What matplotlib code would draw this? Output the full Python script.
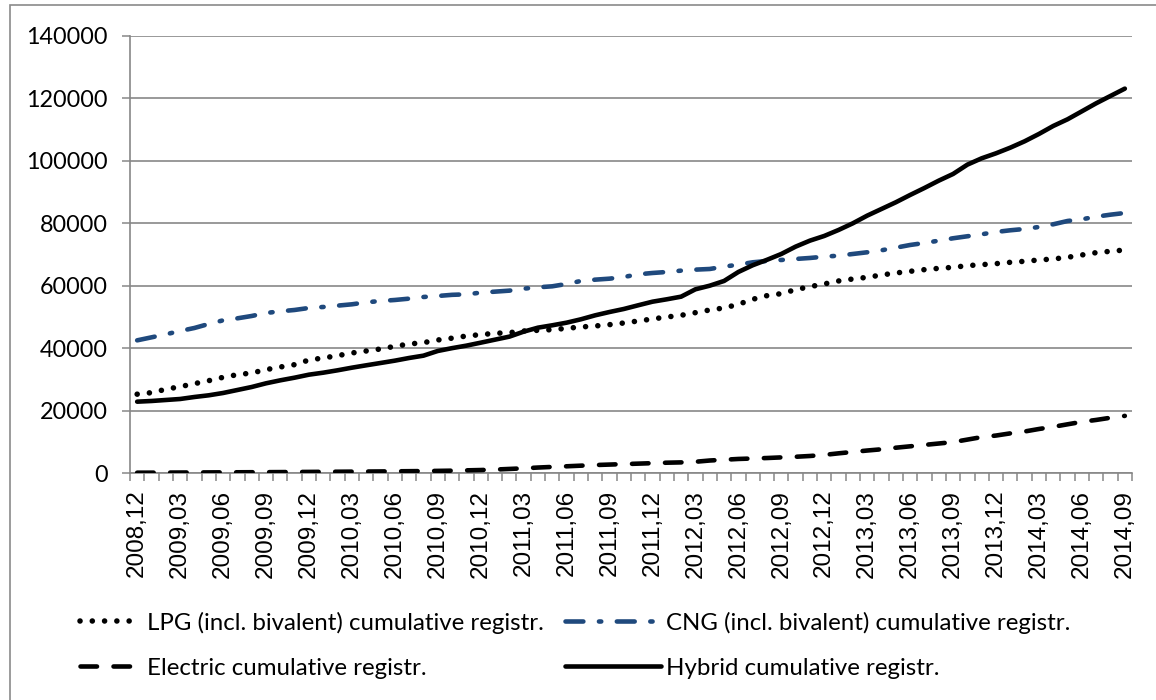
import matplotlib
matplotlib.use("Agg")
import matplotlib.pyplot as plt
from matplotlib.patches import Rectangle
import numpy as np

# ---- data ----
start_year, start_month, n_months = 2008, 12, 70
months = []
y, m = start_year, start_month
for _ in range(n_months):
    months.append(f"{y},{m:02d}")
    m += 1
    if m > 12:
        m = 1
        y += 1

lpg = [25250, 25740, 26810, 27660, 28620, 29580, 30650, 31500, 32040, 33110,
       33960, 34710, 36200, 36850, 37590, 38450, 39090, 39730, 40580, 41330,
       41760, 42610, 43200, 43890, 44330, 44750, 44960, 45500, 45710, 45920,
       46350, 46780, 47100, 47530, 48060, 48700, 49340, 49980, 50520, 51370,
       52230, 52870, 54040, 55650, 56820, 57460, 58740, 59700, 60560, 61520,
       62160, 62690, 63440, 64080, 64610, 65150, 65570, 65890, 66430, 66750,
       67070, 67500, 67820, 68250, 68570, 69100, 69850, 70600, 71030, 71450]

cng = [42500, 43460, 44430, 45500, 46460, 47740, 48910, 49550, 50300, 51260,
       51800, 52230, 52870, 53190, 53620, 54040, 54680, 55110, 55430, 55860,
       56390, 56710, 57080, 57240, 57780, 58100, 58420, 59060, 59490, 59810,
       60560, 61520, 61940, 62260, 62800, 63650, 64080, 64400, 64830, 65150,
       65360, 66110, 66750, 67500, 67920, 68250, 68570, 68890, 69310, 69620,
       70170, 70710, 71350, 72190, 73050, 73690, 74430, 75200, 75840, 76480,
       77220, 77760, 78180, 78820, 79680, 80740, 81280, 82120, 82760, 83300]

electric = [100, 110, 130, 150, 170, 190, 210, 230, 250, 270,
            290, 320, 350, 380, 410, 440, 470, 500, 540, 580,
            620, 680, 750, 850, 950, 1100, 1300, 1500, 1750, 1950,
            2150, 2350, 2550, 2700, 2850, 3000, 3150, 3300, 3400, 3600,
            4000, 4250, 4500, 4650, 4800, 5000, 5200, 5450, 5800, 6300,
            6750, 7200, 7600, 8100, 8550, 9000, 9450, 9900, 10700, 11500,
            12000, 12700, 13300, 14100, 14800, 15600, 16400, 17000, 17700, 18300]

hybrid = [22850, 23070, 23390, 23710, 24350, 24890, 25630, 26590, 27550, 28730,
          29690, 30540, 31500, 32140, 32900, 33740, 34500, 35240, 35990, 36850,
          37590, 39090, 40000, 40800, 41750, 42720, 43680, 45280, 46560, 47320,
          48160, 49240, 50520, 51580, 52550, 53730, 54880, 55650, 56490, 58850,
          60010, 61520, 64400, 66550, 68300, 70170, 72520, 74440, 75940, 77860,
          80000, 82450, 84590, 86730, 89070, 91310, 93660, 95800, 98790, 100820,
          102420, 104230, 106270, 108620, 111180, 113320, 115880, 118450, 120800, 123140]

labels = ["LPG (incl. bivalent) cumulative registr.",
          "CNG (incl. bivalent) cumulative registr.",
          "Electric cumulative registr.",
          "Hybrid cumulative registr."]

y_ticks = list(range(0, 140001, 20000))

# ---- figure ----
W, H = 1156, 700
fig = plt.figure(figsize=(W / 100, H / 100), dpi=100)
fig.patch.set_facecolor("white")

# outer chart frame (partly cropped)
fig.add_artist(Rectangle((10 / W, -0.1), 1.2, 1 - 5 / H + 0.1,
                         transform=fig.transFigure, fill=False,
                         edgecolor="#8a8a8a", linewidth=1.2))

ax = fig.add_axes([130 / W, 1 - 473 / H, (1132 - 130) / W, (473 - 36) / H])
x = np.arange(n_months)

grey = "#878787"
blue = "#1F497D"

l_lpg, = ax.plot(x, lpg, color="black", lw=4.0, linestyle=(0, (0.01, 2.2)),
                 dash_capstyle="round", label=labels[0], zorder=3)
l_cng, = ax.plot(x, cng, color=blue, lw=3.3, linestyle=(0, (3.9, 3.4, 0.5, 3.4)),
                 dash_capstyle="round", label=labels[1], zorder=3)
l_el, = ax.plot(x, electric, color="black", lw=3.3, linestyle=(0, (3.6, 3.6)),
                dash_capstyle="round", label=labels[2], zorder=3)
l_hy, = ax.plot(x, hybrid, color="black", lw=3.3, solid_capstyle="round",
                label=labels[3], zorder=3)

ax.set_xlim(-0.5, n_months - 0.5)
ax.set_ylim(0, 140000)

ax.set_yticks(y_ticks)
ax.set_yticklabels([str(v) for v in y_ticks], fontfamily="Lato", fontsize=16.8)
ax.yaxis.grid(True, color=grey, linewidth=1.2)
ax.set_axisbelow(True)

lab_pos = x[::3]
ax.set_xticks(lab_pos)
ax.set_xticklabels([months[i] for i in lab_pos], rotation=90,
                   fontfamily="Liberation Sans", fontsize=17.5)
ax.set_xticks(np.arange(-0.5, n_months, 1.0), minor=True)
ax.tick_params(axis="x", which="major", length=0, pad=12)
ax.tick_params(axis="x", which="minor", length=6, width=1.1, color=grey, direction="out")
ax.tick_params(axis="y", which="major", length=6, width=1.1, color=grey, pad=10)

for s in ["top", "right"]:
    ax.spines[s].set_visible(False)
for s in ["left", "bottom"]:
    ax.spines[s].set_color(grey)
    ax.spines[s].set_linewidth(1.2)

# legend: two columns, rows read LPG, CNG / Electric, Hybrid
leg_font = {"family": "Lato", "size": 17.3}
common = dict(loc="center left", frameon=False, prop=leg_font,
              labelspacing=1.0, borderpad=0, borderaxespad=0)
leg1 = fig.legend(handles=[l_lpg, l_el], labels=[labels[0], labels[2]],
                  bbox_to_anchor=(80 / W, 1 - 645 / H),
                  handlelength=2.55, handletextpad=0.22, **common)
leg2 = fig.legend(handles=[l_cng, l_hy], labels=[labels[1], labels[3]],
                  bbox_to_anchor=(565 / W, 1 - 645 / H),
                  handlelength=4.0, handletextpad=0.22, **common)

fig.savefig("out.png", dpi=100)
